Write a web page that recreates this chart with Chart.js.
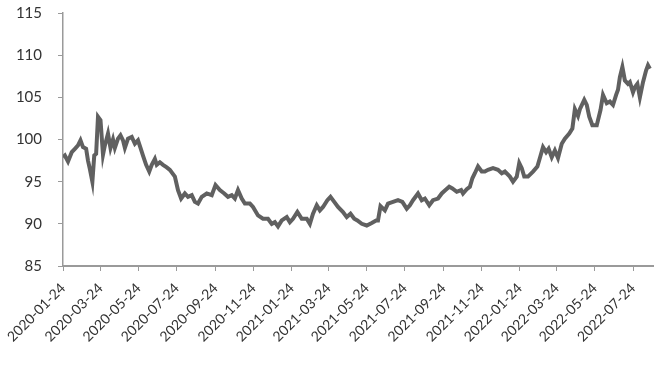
<!DOCTYPE html>
<html>
<head>
<meta charset="utf-8">
<script src="https://cdn.jsdelivr.net/npm/chart.js@4/dist/chart.umd.min.js"></script>
<style>
  html, body { margin: 0; padding: 0; background: #ffffff; }
  #wrap { width: 660px; height: 365px; }
</style>
</head>
<body>
<div id="wrap"><canvas id="c" width="660" height="365"></canvas></div>
<script>
// Series start date; x values are days since this date
const startDate = '2020-01-24';

const dayOffsets = [
  0, 3, 8, 14, 19, 24, 28, 32, 37, 40, 43, 47, 50, 53, 56, 60, 64, 67, 72, 76,
  80, 83, 88, 92, 96, 99, 104, 110, 115, 120, 124, 128, 133, 138, 142, 147, 150, 155, 160, 166,
  171, 179, 184, 189, 195, 200, 206, 211, 216, 222, 230, 238, 244, 251, 258, 264, 270, 275, 280, 286,
  291, 299, 304, 312, 320, 328, 334, 339, 344, 350, 358, 363, 368, 375, 382, 390, 395, 400, 406, 411,
  416, 423, 428, 434, 440, 448, 454, 460, 466, 471, 478, 486, 494, 501, 504, 508, 515, 520, 528, 536,
  543, 550, 555, 560, 568, 574, 579, 586, 592, 600, 606, 612, 618, 623, 630, 637, 640, 646, 651, 655,
  659, 664, 670, 675, 680, 688, 696, 702, 707, 715, 720, 726, 730, 734, 738, 744, 752, 759, 763, 768,
  773, 777, 782, 787, 792, 798, 803, 810, 815, 819, 824, 827, 834, 838, 842, 847, 854, 860, 864, 870,
  875, 880, 885, 888, 891, 895, 899, 904, 907, 912, 915, 919, 923, 928, 933, 936, 939
];

// Index values
const values = [
  97.9, 98.1, 97.4, 98.5, 98.9, 99.3, 99.9, 99.1, 98.9, 97.5, 96.5, 95.0, 98.1, 98.3, 102.7, 102.3, 98.2, 99.3, 100.7, 99.0,
  100.0, 99.0, 100.1, 100.5, 99.9, 99.0, 100.1, 100.3, 99.5, 99.9, 99.0, 98.1, 97.0, 96.2, 97.0, 97.7, 97.0, 97.3, 97.0, 96.7,
  96.4, 95.6, 94.0, 93.0, 93.6, 93.2, 93.4, 92.6, 92.4, 93.2, 93.6, 93.4, 94.6, 94.0, 93.6, 93.2, 93.4, 93.0, 94.0, 93.0,
  92.4, 92.4, 92.0, 91.0, 90.6, 90.6, 90.0, 90.2, 89.7, 90.4, 90.8, 90.2, 90.6, 91.4, 90.6, 90.6, 90.0, 91.2, 92.2, 91.6,
  92.0, 92.8, 93.2, 92.6, 92.0, 91.4, 90.8, 91.2, 90.6, 90.4, 90.0, 89.8, 90.1, 90.4, 90.4, 92.1, 91.6, 92.4, 92.6, 92.8,
  92.6, 91.8, 92.2, 92.8, 93.6, 92.8, 93.0, 92.2, 92.8, 93.0, 93.6, 94.0, 94.4, 94.2, 93.8, 94.0, 93.6, 94.1, 94.4, 95.4,
  96.0, 96.8, 96.2, 96.2, 96.4, 96.6, 96.4, 96.0, 96.2, 95.6, 95.0, 95.6, 97.2, 96.6, 95.6, 95.6, 96.2, 96.8, 97.8, 99.1,
  98.5, 98.9, 97.9, 98.7, 97.8, 99.5, 100.1, 100.7, 101.3, 103.6, 102.8, 103.6, 104.7, 104.1, 102.7, 101.7, 101.7, 103.5, 105.3, 104.3,
  104.5, 104.1, 105.3, 105.9, 107.4, 108.6, 107.0, 106.6, 106.8, 105.6, 106.2, 106.6, 105.0, 106.8, 108.2, 108.8, 108.4
];

// X-axis tick labels
const tickLabels = [
  '2020-01-24', '2020-03-24', '2020-05-24', '2020-07-24', '2020-09-24', '2020-11-24',
  '2021-01-24', '2021-03-24', '2021-05-24', '2021-07-24', '2021-09-24', '2021-11-24',
  '2022-01-24', '2022-03-24', '2022-05-24', '2022-07-24'
];
// End of the x axis
const axisEndDate = '2022-08-25';

// Y-axis range
const yMin = 85, yMax = 115, yStep = 5;

const dayOf = s => Math.round((Date.parse(s) - Date.parse(startDate)) / 86400000);
const tickDays = tickLabels.map(dayOf);
const labelByDay = {};
tickLabels.forEach((l, i) => { labelByDay[tickDays[i]] = l; });

const points = dayOffsets.map((d, i) => ({ x: d, y: values[i] }));

const axisColor = '#9a9a9a';
const textColor = '#333333';

new Chart(document.getElementById('c'), {
  type: 'line',
  data: {
    datasets: [{
      data: points,
      borderColor: '#606060',
      borderWidth: 4,
      pointRadius: 0,
      tension: 0,
      fill: false
    }]
  },
  options: {
    responsive: false,
    animation: false,
    events: [],
    layout: { padding: { top: 13, right: 7, left: 0, bottom: 0 } },
    plugins: { legend: { display: false }, tooltip: { enabled: false } },
    scales: {
      x: {
        type: 'linear',
        min: 0,
        max: dayOf(axisEndDate),
        afterBuildTicks: s => { s.ticks = tickDays.map(v => ({ value: v })); },
        afterFit: s => { s.height = 99; s.paddingLeft = 0; s.paddingRight = 0; },
        grid: { display: true, drawOnChartArea: false, drawTicks: true, tickLength: 5, color: axisColor, lineWidth: 1 },
        border: { display: true, color: axisColor, width: 2 },
        ticks: {
          autoSkip: false,
          minRotation: 45,
          maxRotation: 45,
          padding: 9,
          color: textColor,
          font: { family: 'Lato', size: 14 },
          callback: v => labelByDay[v] || ''
        }
      },
      y: {
        min: yMin,
        max: yMax,
        afterFit: s => { s.width = 63; s.paddingTop = 0; s.paddingBottom = 0; },
        grid: { display: true, drawOnChartArea: false, drawTicks: true, tickLength: 5, color: axisColor, lineWidth: 1 },
        border: { display: true, color: axisColor, width: 1.5 },
        ticks: {
          stepSize: yStep,
          padding: 16,
          color: textColor,
          font: { family: 'Lato', size: 15 }
        }
      }
    }
  }
});
</script>
</body>
</html>
